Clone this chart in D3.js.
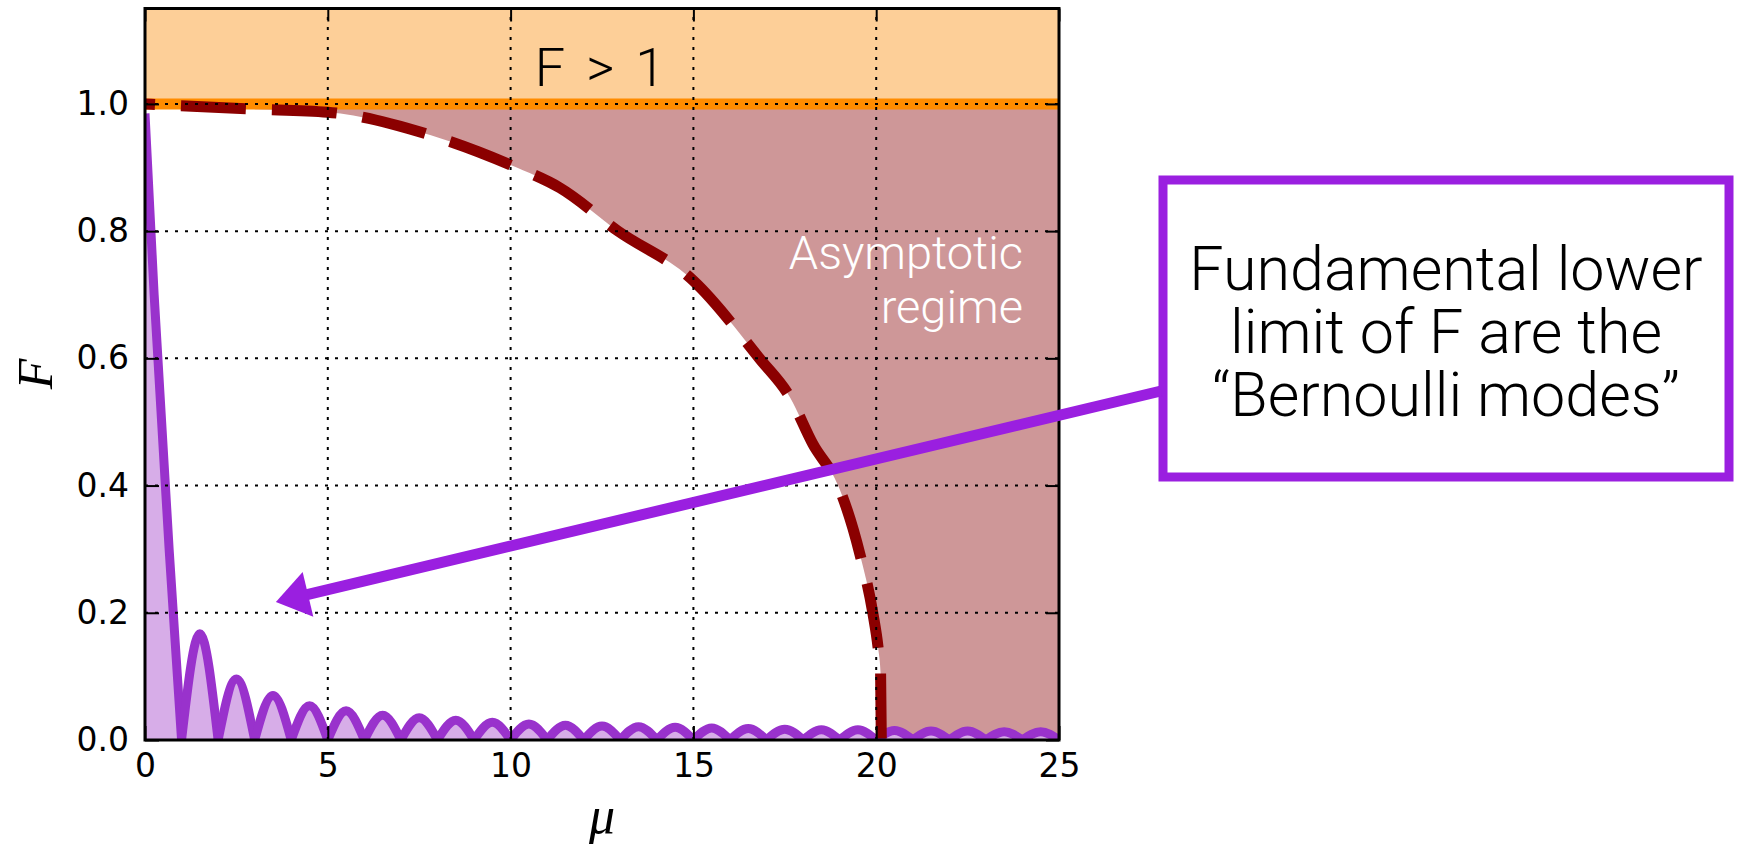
<!DOCTYPE html>
<html>
<head>
<meta charset="utf-8">
<script src="https://cdn.jsdelivr.net/npm/d3@7"></script>
<style>
body { margin: 0; background: #fff; }
.tick text { font-family: "DejaVu Sans", sans-serif; font-size: 33px; fill: #000; }
.tick line { stroke: #000; stroke-width: 2; }
.note { font-family: "Helvetica Neue", Roboto, "Liberation Sans", sans-serif; font-weight: 300; }
</style>
</head>
<body>
<div id="chart"></div>
<script>
// ticks
var xTicks = [0, 5, 10, 15, 20, 25];
var yTicks = [0, 0.2, 0.4, 0.6, 0.8, 1.0];

// dashed edge of the asymptotic regime
var edgeMu = [0, 2.9, 5.0, 7.8, 10.0, 11.35, 12.94, 15.0, 16.82, 17.64, 18.27, 18.96, 19.55, 19.91, 20.05, 20.12, 20.14];
var edgeF  = [1.0, 0.992, 0.987, 0.951, 0.904, 0.868, 0.80, 0.722, 0.599, 0.539, 0.465, 0.40, 0.293, 0.199, 0.146, 0.105, 0.0];

// first lobe of the Bernoulli mode curve
var lobeMu = [0, 0.25, 0.66, 1.0];
var lobeF  = [0.985, 0.70, 0.30, 0];

// zeros and heights of the small arches after the first lobe
var archZeros = [1, 2, 3, 4, 5, 6, 7, 8, 9, 10, 11, 12, 13, 14, 15, 16, 17, 18, 19, 20, 21, 22, 23, 24, 25];
var archPeaks = [0.167, 0.096, 0.070, 0.054, 0.046, 0.039, 0.035, 0.031, 0.028, 0.025, 0.023, 0.022,
                 0.021, 0.020, 0.019, 0.018, 0.017, 0.016, 0.016, 0.015, 0.014, 0.014, 0.013, 0.013];

var boxLines = ["Fundamental lower", "limit of F are the", "\u201cBernoulli modes\u201d"];

var fullWidth = 1741;
var fullHeight = 851;

var svg = d3.select("#chart").append("svg").attr("width", fullWidth).attr("height", fullHeight);

var x = d3.scaleLinear().domain([0, 25]).range([145, 1059]);
var y = d3.scaleLinear().domain([0, 1.15]).range([740, 8.5]);

svg.append("clipPath").attr("id", "plot")
    .append("rect")
    .attr("x", x(0)).attr("y", y(1.15))
    .attr("width", x(25) - x(0)).attr("height", y(0) - y(1.15));

var plot = svg.append("g").attr("clip-path", "url(#plot)");

// F > 1 band
plot.append("rect")
    .attr("x", x(0)).attr("y", y(1.15))
    .attr("width", x(25) - x(0)).attr("height", y(1) - y(1.15))
    .attr("fill", "#fdcf98");

var edge = edgeMu.map(function (m, i) { return [m, edgeF[i]]; });
var edgeLine = d3.line()
    .x(function (d) { return x(d[0]); })
    .y(function (d) { return y(d[1]); })
    .curve(d3.curveMonotoneX);

// asymptotic regime fill
plot.append("path")
    .attr("d", edgeLine(edge) + "L" + x(25) + "," + y(0) + "L" + x(25) + "," + y(1) + "Z")
    .attr("fill", "#ce9798");

// Bernoulli modes
var lobe = lobeMu.map(function (m, i) { return [m, lobeF[i]]; });
var arches = archPeaks.map(function (h, i) {
    var a = archZeros[i], b = archZeros[i + 1];
    return [[a, 0], [(a + b) / 2, h], [b, 0]];
});

var lobeArea = d3.area().x(function (d) { return x(d[0]); }).y0(y(0)).y1(function (d) { return y(d[1]); }).curve(d3.curveMonotoneX);
var archArea = d3.area().x(function (d) { return x(d[0]); }).y0(y(0)).y1(function (d) { return y(d[1]); }).curve(d3.curveNatural);
var lobeLine = d3.line().x(function (d) { return x(d[0]); }).y(function (d) { return y(d[1]); }).curve(d3.curveMonotoneX);
var archLine = d3.line().x(function (d) { return x(d[0]); }).y(function (d) { return y(d[1]); }).curve(d3.curveNatural);

plot.append("path").attr("d", lobeArea(lobe)).attr("fill", "#d7ade8");
plot.selectAll(".archFill").data(arches).enter().append("path")
    .attr("class", "archFill").attr("d", archArea).attr("fill", "#d7ade8");

// F = 1 line
plot.append("line")
    .attr("x1", x(0)).attr("x2", x(25))
    .attr("y1", y(1)).attr("y2", y(1))
    .attr("stroke", "#ff8c00").attr("stroke-width", 11);

plot.append("path").attr("d", lobeLine(lobe))
    .attr("fill", "none").attr("stroke", "#9932cc").attr("stroke-width", 9);
plot.selectAll(".arch").data(arches).enter().append("path")
    .attr("class", "arch").attr("d", archLine)
    .attr("fill", "none").attr("stroke", "#9932cc").attr("stroke-width", 9)
    .attr("stroke-linecap", "round").attr("stroke-linejoin", "round");

// dashed edge
plot.append("path").attr("d", edgeLine(edge))
    .attr("fill", "none").attr("stroke", "#8b0000").attr("stroke-width", 11)
    .attr("stroke-dasharray", "65,26").attr("stroke-dashoffset", 55);

// grid on top (classic style)
plot.selectAll(".gx").data(xTicks).enter().append("line")
    .attr("x1", function (d) { return x(d); }).attr("x2", function (d) { return x(d); })
    .attr("y1", y(0)).attr("y2", y(1.15))
    .attr("stroke", "#000").attr("stroke-width", 2).attr("stroke-dasharray", "3,7");
plot.selectAll(".gy").data(yTicks).enter().append("line")
    .attr("x1", x(0)).attr("x2", x(25))
    .attr("y1", function (d) { return y(d); }).attr("y2", function (d) { return y(d); })
    .attr("stroke", "#000").attr("stroke-width", 2).attr("stroke-dasharray", "3,7");

// axes with inward ticks
function noDomain(g) { g.select(".domain").remove(); }

svg.append("g").attr("transform", "translate(0," + y(0) + ")")
    .call(d3.axisBottom(x).tickValues(xTicks).tickFormat(d3.format("d"))
        .tickSizeInner(-14).tickSizeOuter(0).tickPadding(14))
    .call(noDomain);
svg.append("g").attr("transform", "translate(" + x(0) + ",0)")
    .call(d3.axisLeft(y).tickValues(yTicks).tickFormat(d3.format(".1f"))
        .tickSizeInner(-14).tickSizeOuter(0).tickPadding(16))
    .call(noDomain);
svg.append("g").attr("transform", "translate(0," + y(1.15) + ")")
    .call(d3.axisTop(x).tickValues(xTicks).tickFormat("").tickSizeInner(-13).tickSizeOuter(0))
    .call(noDomain);
svg.append("g").attr("transform", "translate(" + x(25) + ",0)")
    .call(d3.axisRight(y).tickValues(yTicks).tickFormat("").tickSizeInner(-13).tickSizeOuter(0))
    .call(noDomain);

svg.append("rect")
    .attr("x", x(0)).attr("y", y(1.15))
    .attr("width", x(25) - x(0)).attr("height", y(0) - y(1.15))
    .attr("fill", "none").attr("stroke", "#000").attr("stroke-width", 3);

// axis labels
svg.append("text")
    .attr("transform", "translate(52,374) rotate(-90)")
    .attr("text-anchor", "middle")
    .style("font-family", "'Liberation Serif', serif").style("font-style", "italic").style("font-size", "50px")
    .text("F");
svg.append("text")
    .attr("x", x(12.5)).attr("y", 833)
    .attr("text-anchor", "middle")
    .style("font-family", "'Liberation Serif', serif").style("font-style", "italic").style("font-size", "52px")
    .text("\u03bc");

// region notes
svg.append("text").attr("class", "note")
    .attr("x", 600).attr("y", 86).attr("text-anchor", "middle")
    .style("font-size", "54px").style("word-spacing", "8px").attr("fill", "#000")
    .text("F > 1");
svg.append("text").attr("class", "note")
    .attr("x", 1023).attr("y", 269).attr("text-anchor", "end")
    .style("font-size", "47px").attr("fill", "#fff")
    .text("Asymptotic");
svg.append("text").attr("class", "note")
    .attr("x", 1023).attr("y", 323).attr("text-anchor", "end")
    .style("font-size", "47px").attr("fill", "#fff")
    .text("regime");

// annotation box
var purple = "#9a1fe0";
svg.append("rect")
    .attr("x", 1163).attr("y", 180).attr("width", 566).attr("height", 297)
    .attr("fill", "#fff").attr("stroke", purple).attr("stroke-width", 9);
svg.selectAll(".boxText").data(boxLines).enter().append("text")
    .attr("class", "note boxText")
    .attr("x", 1446).attr("y", function (d, i) { return 290 + i * 63; })
    .attr("text-anchor", "middle")
    .style("font-size", "61px").attr("fill", "#000")
    .text(function (d) { return d; });

// arrow from box to the curve
var tail = [1161, 391];
var tip = [x(3.58), y(0.217)];
var dx = tip[0] - tail[0], dy = tip[1] - tail[1];
var len = Math.sqrt(dx * dx + dy * dy);
var ux = dx / len, uy = dy / len;
var headLen = 33, headHalf = 23;
var base = [tip[0] - ux * headLen, tip[1] - uy * headLen];
svg.append("line")
    .attr("x1", tail[0]).attr("y1", tail[1])
    .attr("x2", base[0] + ux * 2).attr("y2", base[1] + uy * 2)
    .attr("stroke", purple).attr("stroke-width", 11);
svg.append("polygon")
    .attr("points", [
        tip,
        [base[0] - uy * headHalf, base[1] + ux * headHalf],
        [base[0] + uy * headHalf, base[1] - ux * headHalf]
    ].map(function (p) { return p.join(","); }).join(" "))
    .attr("fill", purple);
</script>
</body>
</html>
